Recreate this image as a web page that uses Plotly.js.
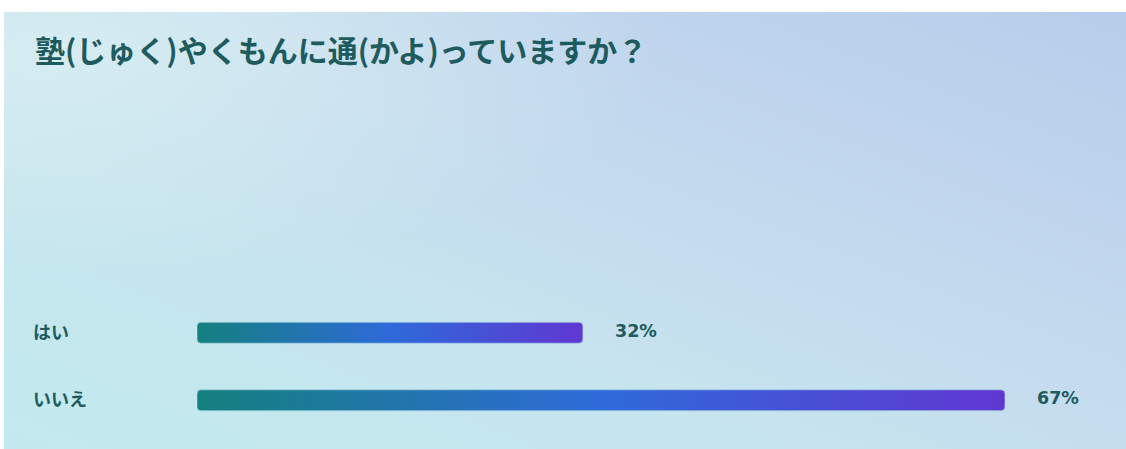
<!DOCTYPE html>
<html>
<head>
<meta charset="utf-8">
<script src="https://cdn.plot.ly/plotly-3.0.1.min.js"></script>
<style>
  html, body { margin: 0; padding: 0; background: #ffffff; width: 1126px; height: 449px; overflow: hidden; }
  #chart {
    position: absolute; left: 4px; top: 12px; width: 1122px; height: 437px;
    background:
      radial-gradient(ellipse at 5% 8%, rgba(220,241,243,0.75) 0%, rgba(220,241,243,0) 40%),
      linear-gradient(to top right, #c2eaee 0%, #c6e4ee 35%, #c4daee 60%, #b8cdeb 100%);
  }
</style>
</head>
<body>
<div id="chart"></div>
<script>
const titleText = "塾(じゅく)やくもんに通(かよ)っていますか？";
const categories = ["はい", "いいえ"];
const percentValues = [32, 67];
const valueLabels = ["32%", "67%"];

const textColor = "#1d5b5e";

const trace = {
  type: "bar",
  orientation: "h",
  y: categories,
  x: percentValues,
  marker: { color: "#2a6fd0" },
  hoverinfo: "none",
  showlegend: false
};

const annotations = [];
categories.forEach((c, i) => {
  annotations.push({
    x: 0, xref: "paper", y: c, yref: "y",
    text: "<b>" + c + "</b>", showarrow: false,
    xanchor: "left", xshift: -166, yshift: 2,
    font: { family: "'Noto Sans CJK JP', sans-serif", size: 18, color: textColor }
  });
  annotations.push({
    x: percentValues[i], xref: "x", y: c, yref: "y",
    text: "<b>" + valueLabels[i] + "</b>", showarrow: false,
    xanchor: "left", xshift: 30, yshift: 2,
    font: { family: "'DejaVu Sans', sans-serif", size: 17.5, color: textColor }
  });
});

const layout = {
  width: 1122, height: 437,
  paper_bgcolor: "rgba(0,0,0,0)",
  plot_bgcolor: "rgba(0,0,0,0)",
  margin: { l: 193, r: 121, t: 286.5, b: 14.5 },
  title: {
    text: "<b>" + titleText + "</b>",
    x: 31 / 1122, xref: "container", xanchor: "left",
    y: 1 - 39 / 437, yref: "container", yanchor: "middle",
    font: { family: "'Noto Sans CJK JP', sans-serif", size: 30, color: textColor }
  },
  xaxis: { range: [0, 67], visible: false, fixedrange: true },
  yaxis: { type: "category", autorange: "reversed", visible: false, fixedrange: true },
  bargap: 0.69,
  annotations: annotations
};

Plotly.newPlot("chart", [trace], layout, { displayModeBar: false, staticPlot: true }).then(() => {
  const svg = document.querySelector("#chart .main-svg");
  const ns = "http://www.w3.org/2000/svg";
  let defs = svg.querySelector("defs");
  if (!defs) { defs = document.createElementNS(ns, "defs"); svg.insertBefore(defs, svg.firstChild); }
  const grad = document.createElementNS(ns, "linearGradient");
  grad.setAttribute("id", "barGrad");
  grad.setAttribute("x1", "0"); grad.setAttribute("y1", "0");
  grad.setAttribute("x2", "1"); grad.setAttribute("y2", "0");
  [["0%", "#15807f"], ["50%", "#2e6ad9"], ["100%", "#6137d2"]].forEach(([o, c]) => {
    const s = document.createElementNS(ns, "stop");
    s.setAttribute("offset", o); s.setAttribute("stop-color", c);
    grad.appendChild(s);
  });
  defs.appendChild(grad);
  // round all four corners of each bar drawn by Plotly, keeping its own geometry
  document.querySelectorAll("#chart .trace.bars .point path").forEach(p => {
    const b = p.getBBox();
    const r = 4;
    const x0 = b.x, y0 = b.y, x1 = b.x + b.width, y1 = b.y + b.height;
    p.setAttribute("d",
      `M${x0 + r},${y0}H${x1 - r}A${r},${r} 0 0 1 ${x1},${y0 + r}V${y1 - r}` +
      `A${r},${r} 0 0 1 ${x1 - r},${y1}H${x0 + r}A${r},${r} 0 0 1 ${x0},${y1 - r}` +
      `V${y0 + r}A${r},${r} 0 0 1 ${x0 + r},${y0}Z`);
    p.style.fill = "url(#barGrad)";
    p.style.stroke = "rgba(170,215,230,0.8)";
    p.style.strokeWidth = "0.8px";
  });
});
</script>
</body>
</html>
